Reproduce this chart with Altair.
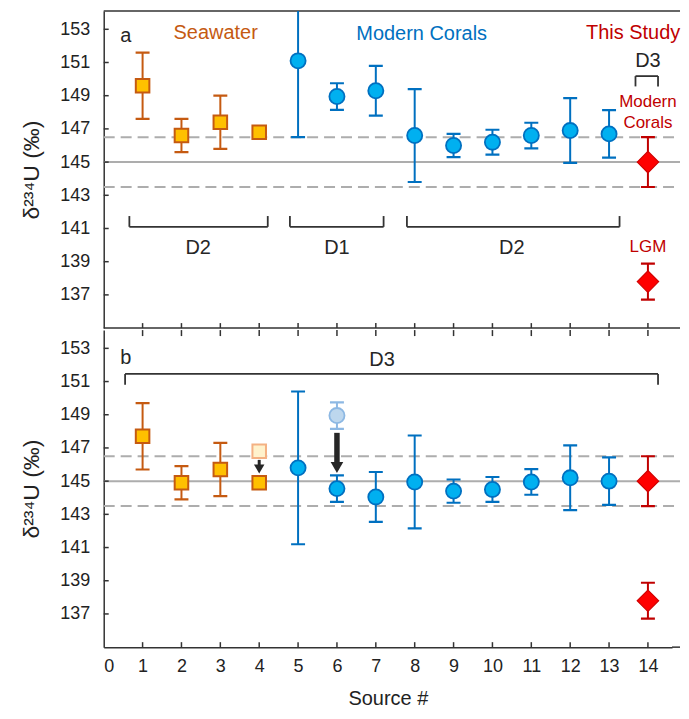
import altair as alt
import pandas as pd

# ---------------- data ----------------
sw_src = [1, 2, 3, 4]
mc_src = [5, 6, 7, 8, 9, 10, 11, 12, 13]
ts_src = [14, 14]

sw_a = [149.6, 146.6, 147.4, 146.8]
sw_b = [147.7, 144.9, 145.7, 144.9]
sw_err = [2.0, 1.0, 1.6, 0.0]

mc_a = [151.1, 148.95, 149.3, 146.6, 146.0, 146.2, 146.6, 146.9, 146.7]
mc_b = [145.8, 144.55, 144.05, 144.95, 144.4, 144.5, 144.95, 145.2, 145.0]
mc_err = [4.6, 0.8, 1.5, 2.8, 0.7, 0.75, 0.77, 1.95, 1.43]

ts_val = [145.0, 137.8]
ts_err = [1.5, 1.08]

faded_sq_x, faded_sq_y = [4], [146.8]
faded_ci_x, faded_ci_y, faded_ci_err = [6], [148.95], [0.8]

ref_mean = 145.0
ref_lo, ref_hi = 143.5, 146.5

y_ticks = [137, 139, 141, 143, 145, 147, 149, 151, 153]
x_labels = list(range(0, 15))
x_ticks = list(range(1, 15))

# brackets (x, x2, y, y2) in data units
brackets_a = [
    (0.66, 4.22, 141.1, 141.1), (0.66, 0.66, 141.1, 141.75), (4.22, 4.22, 141.1, 141.75),
    (4.79, 7.2, 141.1, 141.1), (4.79, 4.79, 141.1, 141.75), (7.2, 7.2, 141.1, 141.75),
    (7.8, 13.27, 141.1, 141.1), (7.8, 7.8, 141.1, 141.75), (13.27, 13.27, 141.1, 141.75),
    (13.68, 14.26, 150.18, 150.18), (13.68, 13.68, 150.18, 149.56), (14.26, 14.26, 150.18, 149.56),
]
brackets_b = [
    (0.55, 14.26, 151.46, 151.46), (0.55, 0.55, 151.46, 150.8), (14.26, 14.26, 151.46, 150.8),
]

# texts: x, y, label, color, size
texts_a = [
    (0.57, 152.6, "a", "#262626", 20),
    (2.88, 152.8, "Seawater", "#C55A11", 20),
    (8.18, 152.72, "Modern Corals", "#0070C0", 20),
    (13.62, 152.76, "This Study", "#C00000", 20),
    (14.0, 151.06, "D3", "#262626", 20),
    (14.0, 148.6, "Modern", "#C00000", 17),
    (14.0, 147.35, "Corals", "#C00000", 17),
    (14.0, 139.9, "LGM", "#C00000", 17),
    (2.43, 139.84, "D2", "#262626", 20),
    (6.0, 139.84, "D1", "#262626", 20),
    (10.5, 139.84, "D2", "#262626", 20),
]
texts_b = [
    (0.57, 152.4, "b", "#262626", 20),
    (7.16, 152.3, "D3", "#262626", 20),
]

# arrows: x, shaft top, shaft bottom, head centre, shaft width, head size
arrows_b = [
    (4, 146.28, 145.9, 145.73, 3, 110),
    (6, 147.91, 146.05, 145.82, 5.5, 160),
]

# ---------------- styling ----------------
W, H = 570, 318
FONT = "Liberation Sans"
ORANGE, ORANGE_FILL = "#C55A11", "#FFC000"
BLUE, BLUE_FILL = "#0070C0", "#00B0F0"
RED, RED_FILL = "#C00000", "#FF0000"
GRAY = "#ADADAD"
DARK = "#333333"
YTITLE = "δ²³⁴U (‰)"

xs = alt.Scale(domain=[0, 14.62], nice=False, zero=False)
ys = alt.Scale(domain=[135, 154.1], nice=False, zero=False)

yaxis = alt.Axis(values=y_ticks, ticks=False, grid=False, domain=True, domainColor=DARK,
                 domainWidth=1.5, labelFontSize=18, labelFont=FONT, labelColor="#222222",
                 labelPadding=14, title=YTITLE, titleFont=FONT, titleFontSize=23,
                 titleFontWeight="normal", titleColor="#222222", titlePadding=16)


def build_panel(panel):
    if panel == "b":
        xaxis = alt.Axis(values=x_labels, ticks=False, grid=False, domain=True, domainColor=DARK,
                         domainWidth=1.5, labelFontSize=18, labelFont=FONT, labelColor="#222222",
                         labelPadding=10, title="Source #", titleFont=FONT, titleFontSize=20,
                         titleFontWeight="normal", titleColor="#222222", titlePadding=14)
    else:
        xaxis = None

    def X(f="x"):
        return alt.X(f"{f}:Q", scale=xs, axis=xaxis)

    def Y(f="y"):
        return alt.Y(f"{f}:Q", scale=ys, axis=yaxis)

    sw = sw_a if panel == "a" else sw_b
    mc = mc_a if panel == "a" else mc_b

    sw_df = pd.DataFrame({"x": sw_src, "y": sw, "lo": [v - e for v, e in zip(sw, sw_err)],
                          "hi": [v + e for v, e in zip(sw, sw_err)], "e": sw_err})
    sw_df_err = sw_df[sw_df["e"] > 0]
    mc_df = pd.DataFrame({"x": mc_src, "y": mc, "lo": [v - e for v, e in zip(mc, mc_err)],
                          "hi": [v + e for v, e in zip(mc, mc_err)]})
    ts_df = pd.DataFrame({"x": ts_src, "y": ts_val, "lo": [v - e for v, e in zip(ts_val, ts_err)],
                          "hi": [v + e for v, e in zip(ts_val, ts_err)]})

    def errbars(df, color, width=2):
        caps = pd.concat([df[["x"]].assign(c=df["lo"].values), df[["x"]].assign(c=df["hi"].values)])
        r = alt.Chart(df).mark_rule(color=color, strokeWidth=width, clip=True).encode(
            x=X(), y=Y("lo"), y2="hi")
        t = alt.Chart(caps).mark_tick(orient="horizontal", color=color, size=14, thickness=2.2,
                                      opacity=1, clip=True).encode(x=X(), y=Y("c"))
        return [r, t]

    layers = []
    # reference lines
    ref_df = pd.DataFrame({"y": [ref_mean]})
    band_df = pd.DataFrame({"y": [ref_lo, ref_hi]})
    ext = W + 8
    layers.append(alt.Chart(ref_df).mark_rule(color=GRAY, strokeWidth=2).encode(
        y=Y(), x=alt.value(0), x2=alt.value(ext)))
    layers.append(alt.Chart(band_df).mark_rule(color=GRAY, strokeWidth=2, strokeDash=[11, 6]).encode(
        y=Y(), x=alt.value(0), x2=alt.value(ext)))

    # frame lines & inward ticks
    xt_df = pd.DataFrame({"x": x_ticks})
    yt_df = pd.DataFrame({"y": y_ticks})
    layers.append(alt.Chart(yt_df).mark_rule(color=DARK, strokeWidth=1.5).encode(
        y=Y(), x=alt.value(0), x2=alt.value(5)))
    if panel == "a":
        layers.append(alt.Chart(xt_df).mark_rule(color=DARK, strokeWidth=1.5).encode(
            x=X(), y=alt.value(H - 5), y2=alt.value(H)))
        layers.append(alt.Chart(xt_df.head(1)).mark_rule(color=DARK, strokeWidth=1.5).encode(
            x=alt.value(0), x2=alt.value(ext), y=alt.value(0)))
        layers.append(alt.Chart(xt_df.head(1)).mark_rule(color=DARK, strokeWidth=1.5).encode(
            x=alt.value(0), x2=alt.value(ext), y=alt.value(H)))
    else:
        layers.append(alt.Chart(xt_df).mark_rule(color=DARK, strokeWidth=1.5).encode(
            x=X(), y=alt.value(0), y2=alt.value(6)))
        layers.append(alt.Chart(xt_df).mark_rule(color=DARK, strokeWidth=1.5).encode(
            x=X(), y=alt.value(H - 5), y2=alt.value(H)))
        layers.append(alt.Chart(xt_df.head(1)).mark_rule(color=DARK, strokeWidth=1.5).encode(
            x=alt.value(W), x2=alt.value(ext), y=alt.value(H)))

    # brackets
    br = brackets_a if panel == "a" else brackets_b
    br_df = pd.DataFrame(br, columns=["x", "x2", "y", "y2"])
    layers.append(alt.Chart(br_df).mark_rule(color=DARK, strokeWidth=1.8).encode(
        x=X(), x2="x2", y=Y(), y2="y2"))

    # faded points and arrows (panel b)
    if panel == "b":
        fc = pd.DataFrame({"x": faded_ci_x, "y": faded_ci_y,
                           "lo": [faded_ci_y[0] - faded_ci_err[0]], "hi": [faded_ci_y[0] + faded_ci_err[0]]})
        layers += errbars(fc, "#8DB8E3")
        layers.append(alt.Chart(fc).mark_point(shape="circle", filled=True, fill="#BDD7EE",
                                               stroke="#8DB8E3", strokeWidth=1.8, size=230,
                                               opacity=1).encode(x=X(), y=Y()))
        fs = pd.DataFrame({"x": faded_sq_x, "y": faded_sq_y})
        layers.append(alt.Chart(fs).mark_point(shape="square", filled=True, fill="#FFF2CC",
                                               stroke="#F4B183", strokeWidth=2, size=185,
                                               opacity=1).encode(x=X(), y=Y()))
        ar = pd.DataFrame(arrows_b, columns=["x", "top", "bot", "head", "w", "hs"])
        for _, row in ar.iterrows():
            d = pd.DataFrame([row])
            layers.append(alt.Chart(d).mark_rule(color="#262626", strokeWidth=float(row["w"])).encode(
                x=X(), y=Y("top"), y2="bot"))
            layers.append(alt.Chart(d).mark_point(shape="triangle-down", filled=True, fill="#262626",
                                                  strokeWidth=0, size=float(row["hs"]),
                                                  opacity=1).encode(x=X(), y=Y("head")))

    # seawater
    layers += errbars(sw_df_err, ORANGE)
    layers.append(alt.Chart(sw_df).mark_point(shape="square", filled=True, fill=ORANGE_FILL,
                                              stroke=ORANGE, strokeWidth=2, size=185,
                                              opacity=1).encode(x=X(), y=Y()))
    # modern corals
    layers += errbars(mc_df, BLUE)
    layers.append(alt.Chart(mc_df).mark_point(shape="circle", filled=True, fill=BLUE_FILL,
                                              stroke=BLUE, strokeWidth=1.8, size=230,
                                              opacity=1).encode(x=X(), y=Y()))
    # this study
    layers += errbars(ts_df, RED)
    layers.append(alt.Chart(ts_df).mark_point(shape="diamond", filled=True, fill=RED_FILL,
                                              stroke="#D00000", strokeWidth=1.2, size=460,
                                              opacity=1).encode(x=X(), y=Y()))

    # texts
    tx = texts_a if panel == "a" else texts_b
    tx_df = pd.DataFrame(tx, columns=["x", "y", "t", "c", "s"])
    layers.append(alt.Chart(tx_df).mark_text(font=FONT, baseline="middle", align="center").encode(
        x=X(), y=Y(), text="t:N", color=alt.Color("c:N", scale=None),
        size=alt.Size("s:Q", scale=None)))

    return alt.layer(*layers).properties(width=W, height=H)


chart = alt.vconcat(build_panel("a"), build_panel("b"), spacing=0).properties(
    padding={"left": 12, "top": 1, "right": 0, "bottom": 2}
).configure_view(stroke=None).configure_concat(spacing=0).configure_axis(
    titleFont=FONT, titleFontWeight="normal", labelFont=FONT
).configure_axisY(titleFontSize=23, labelFontSize=18).configure_axisX(titleFontSize=20, labelFontSize=18)

chart.save("out.html", embed_options={"renderer": "svg", "actions": False})
